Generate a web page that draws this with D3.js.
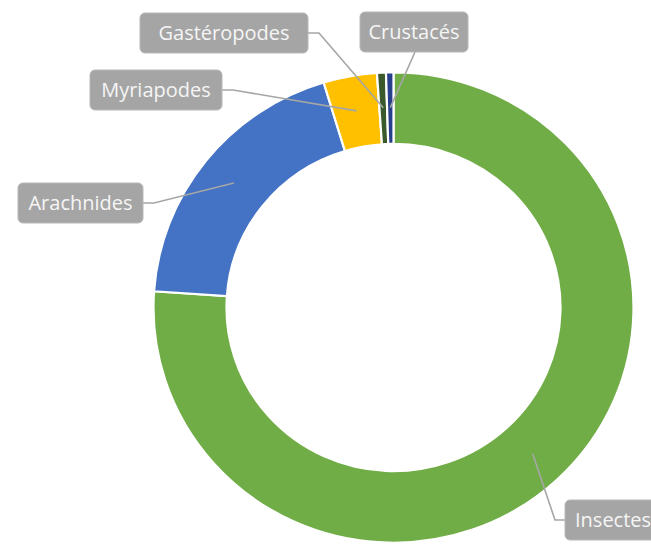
<!DOCTYPE html>
<html>
<head>
<meta charset="utf-8">
<script src="https://cdn.jsdelivr.net/npm/d3@7"></script>
<style>
  html, body { margin: 0; padding: 0; background: #fff; }
  svg { display: block; }
</style>
</head>
<body>
<svg id="chart" width="651" height="550"></svg>
<script>
// Share of species by group (%)
const categories = ["Insectes", "Arachnides", "Myriapodes", "Gastéropodes", "Crustacés"];
const values = [76.1, 19.2, 3.6, 0.6, 0.5];
const colors = ["#70AD47", "#4472C4", "#FFC000", "#3B5A2B", "#283F8C"];

// Label boxes: left, top, width, and which side the leader leaves from
const labelLayout = {
  "Insectes":     { x: 565, y: 500, w: 100, side: "left" },
  "Arachnides":   { x: 18,  y: 183, w: 125, side: "right" },
  "Myriapodes":   { x: 90,  y: 70,  w: 132, side: "right" },
  "Gastéropodes": { x: 140, y: 13,  w: 168, side: "right" },
  "Crustacés":    { x: 360, y: 12,  w: 108, side: "bottom" }
};

const svg = d3.select("#chart");
const cx = 393.5, cy = 307.5, rOuter = 240, rInner = 167, yScale = 0.98;

const data = categories.map((c, i) => ({ name: c, value: values[i], color: colors[i] }));
const pie = d3.pie().value(d => d.value).sort(null);
const arcs = pie(data);
const arc = d3.arc().innerRadius(rInner).outerRadius(rOuter);

const ring = svg.append("g")
  .attr("transform", `translate(${cx},${cy}) scale(1,${yScale})`);

ring.selectAll("path")
  .data(arcs)
  .join("path")
  .attr("d", arc)
  .attr("fill", d => d.data.color)
  .attr("stroke", "#fff")
  .attr("stroke-width", 2.2);

// Leader anchors sit at mid-ring on each slice's centre angle
const anchorArc = d3.arc().innerRadius(204).outerRadius(204);
function anchor(d) {
  const [x, y] = anchorArc.centroid(d);
  return [cx + x, cy + y * yScale];
}

const boxH = 40;
const leaders = svg.append("g");
const labels = svg.append("g");

arcs.forEach(d => {
  const L = labelLayout[d.data.name];
  const [ax, ay] = anchor(d);
  let pts;
  const midY = L.y + boxH / 2;
  if (L.side === "right") {
    pts = [[L.x + L.w, midY], [L.x + L.w + 11, midY], [ax, ay]];
  } else if (L.side === "left") {
    pts = [[L.x, midY], [L.x - 10, midY], [ax, ay]];
  } else {
    pts = [[L.x + L.w / 2 + 1, L.y + boxH], [ax, ay]];
  }
  leaders.append("path")
    .attr("d", d3.line()(pts))
    .attr("fill", "none")
    .attr("stroke", "#A6A6A6")
    .attr("stroke-width", 1.6);

  const g = labels.append("g");
  g.append("rect")
    .attr("x", L.x).attr("y", L.y)
    .attr("width", L.w).attr("height", boxH)
    .attr("rx", 5).attr("ry", 5)
    .attr("fill", "#A5A5A5")
    .attr("stroke", "#B8B8B8")
    .attr("stroke-width", 1);
  const t = g.append("text")
    .attr("y", L.y + boxH / 2)
    .attr("dy", "0.36em")
    .attr("fill", "#F5F5F5")
    .attr("font-family", "'Open Sans', sans-serif")
    .attr("font-size", 20)
    .text(d.data.name);
  if (L.side === "left") {
    t.attr("x", L.x + 10).attr("text-anchor", "start");
  } else {
    t.attr("x", L.x + L.w / 2).attr("text-anchor", "middle");
  }
});
</script>
</body>
</html>
